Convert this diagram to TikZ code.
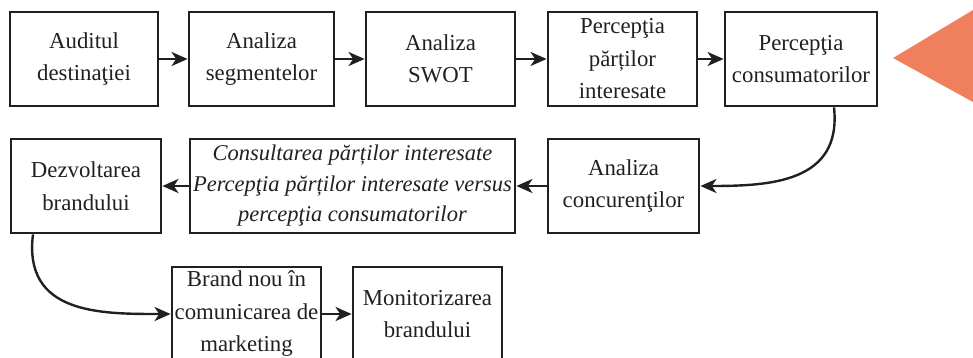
\documentclass[tikz,border=0pt]{standalone}
\usepackage{fontspec}
\setmainfont{Liberation Serif}
\usetikzlibrary{arrows.meta}
\definecolor{ink}{HTML}{231F20}
\definecolor{salmon}{HTML}{F07F5E}
\begin{document}
\begin{tikzpicture}[x=1pt,y=-1pt,
  box/.style={draw=ink, line width=2.8pt, rectangle, inner sep=0pt, minimum height=94pt,
    align=center, font=\fontsize{22.8}{32.5}\selectfont, text=ink},
  conn/.style={draw=ink, line width=2.4pt, -{Stealth[length=16pt,width=14pt,inset=4.5pt]}}]
\useasboundingbox (0,0) rectangle (973,358);
\fill[salmon] (893,58) -- (973,10) -- (973,102) -- cycle;
% row 1
\node[box, minimum width=148pt] (b1) at (84,59) {Auditul\\destinaţiei};
\node[box, minimum width=145pt] (b2) at (261.5,59) {Analiza\\segmentelor};
\node[box, minimum width=149pt] (b3) at (440.5,59) {Analiza\\SWOT};
\node[box, minimum width=149pt] (b4) at (622.5,59) {Percepţia\\părților\\interesate};
\node[box, minimum width=152pt] (b5) at (801,59) {Percepţia\\consumatorilor};
% row 2
\node[box, minimum width=150pt] (b6) at (86,186) {Dezvoltarea\\brandului};
\node[box, minimum width=325pt, font=\fontsize{22.5}{30.5}\selectfont\itshape] (b7) at (352.5,186)
  {Consultarea părților interesate\\Percepţia părților interesate versus\\percepţia consumatorilor};
\node[box, minimum width=151pt] (b8) at (623.5,186) {Analiza\\concurenţilor};
% row 3
\node[box, minimum width=149pt] (b9) at (246.5,314) {Brand nou în\\comunicarea de\\marketing};
\node[box, minimum width=149pt] (b10) at (427.5,314) {Monitorizarea\\brandului};
% connectors
\draw[conn] (b1) -- (b2);
\draw[conn] (b2) -- (b3);
\draw[conn] (b3) -- (b4);
\draw[conn] (b4) -- (b5);
\draw[conn] ([xshift=33pt]b5.south) .. controls +(8,75) and +(70,0) .. (b8.east);
\draw[conn] (b8) -- (b7);
\draw[conn] (b7) -- (b6);
\draw[conn] ([xshift=-53pt]b6.south) .. controls +(-10,80) and +(-70,0) .. (b9.west);
\draw[conn] (b9) -- (b10);
\end{tikzpicture}
\end{document}
